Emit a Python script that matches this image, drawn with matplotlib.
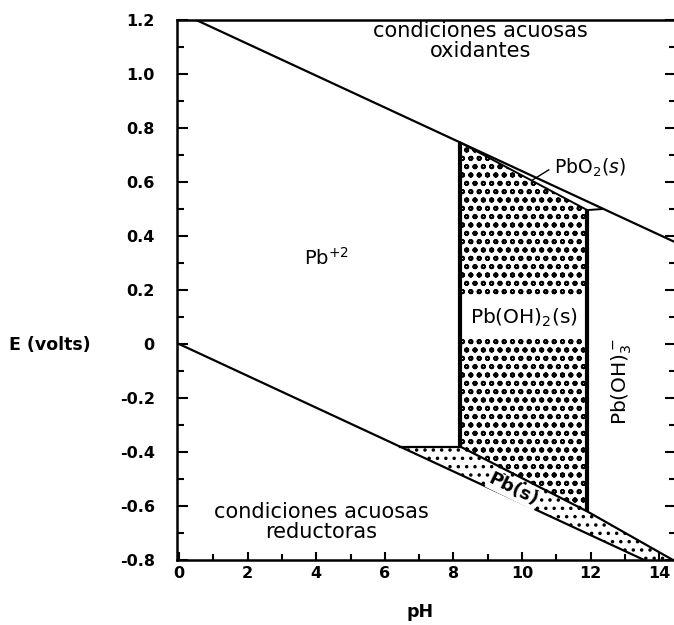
import numpy as np
import matplotlib
matplotlib.use("Agg")
import matplotlib.pyplot as plt
from matplotlib.patches import Polygon, Rectangle

plt.rcParams['font.family'] = ['DejaVu Sans']
plt.rcParams['hatch.linewidth'] = 1.3

# Water stability limits
o2_ph = [0.5, 14.5]
o2_e = [1.20, 0.375]
h2_ph = [0.0, 13.56]
h2_e = [0.0, -0.80]

# Pb+2 / Pb(s) boundary
pb2_ph = [6.45, 8.2]
pb2_e = [-0.38, -0.38]

# Pb(OH)2 and Pb(OH)3- / Pb(s) boundary
pbs_ph = [8.2, 11.9, 14.4]
pbs_e = [-0.38, -0.62, -0.80]

# PbO2(s) lower boundary
pbo2_ph = [8.2, 11.9, 12.35]
pbo2_e = [0.746, 0.496, 0.50]

# Vertical boundaries (Pb+2 / Pb(OH)2 and Pb(OH)2 / Pb(OH)3-)
v_ph = [8.2, 11.9]
v_lo = [-0.38, -0.62]
v_hi = [0.746, 0.496]

xticks = [0, 2, 4, 6, 8, 10, 12, 14]
yticks = [-0.8, -0.6, -0.4, -0.2, 0.0, 0.2, 0.4, 0.6, 0.8, 1.0, 1.2]
ytick_labels = ['-0.8', '-0.6', '-0.4', '-0.2', '0', '0.2', '0.4', '0.6', '0.8', '1.0', '1.2']

fig = plt.figure(figsize=(6.74, 6.25), dpi=100)
ax = fig.add_axes([0.2626, 0.104, 0.7404, 0.864])
ax.set_xlim(-0.06, 14.49)
ax.set_ylim(-0.8, 1.2)

# Pb(OH)2(s) field
poly_x = [v_ph[0]] + pbo2_ph[:2] + [v_ph[1]] + pbs_ph[1::-1]
poly_y = [v_hi[0]] + pbo2_e[:2] + [v_lo[1]] + pbs_e[1::-1]
ax.add_patch(Polygon(list(zip(poly_x, poly_y)), closed=True, facecolor='white',
                     edgecolor='black', hatch='oo', lw=0, zorder=1))
ax.add_patch(Rectangle((v_ph[0], 0.022), v_ph[1] - v_ph[0], 0.152,
                       facecolor='white', edgecolor='none', zorder=2))

# Pb(s) field
h2x = np.linspace(pb2_ph[0], h2_ph[1], 50)
h2y = np.interp(h2x, h2_ph, h2_e)
band_x = list(pb2_ph) + pbs_ph[1:] + list(h2x[::-1])
band_y = list(pb2_e) + pbs_e[1:] + list(h2y[::-1])
ax.add_patch(Polygon(list(zip(band_x, band_y)), closed=True, facecolor='white',
                     edgecolor='black', hatch='..', lw=0, zorder=1))

lc = 'black'
ax.plot(o2_ph, o2_e, color=lc, lw=1.6, zorder=3)
ax.plot(h2_ph, h2_e, color=lc, lw=1.6, zorder=3)
ax.plot(pb2_ph, pb2_e, color=lc, lw=1.6, zorder=3)
ax.plot(pbs_ph, pbs_e, color=lc, lw=1.6, zorder=3)
ax.plot(pbo2_ph, pbo2_e, color=lc, lw=1.4, zorder=3)
for x, lo, hi in zip(v_ph, v_lo, v_hi):
    ax.plot([x, x], [lo, hi], color=lc, lw=3.0, zorder=3, solid_capstyle='butt')

# Labels
ax.text(8.78, 1.122, 'condiciones acuosas\noxidantes', ha='center', va='center',
        fontsize=15, linespacing=0.95)
ax.text(4.14, -0.659, 'condiciones acuosas\nreductoras', ha='center', va='center',
        fontsize=15, linespacing=0.95)
ax.text(4.3, 0.32, 'Pb$^{+2}$', ha='center', va='center', fontsize=14)
ax.text(10.05, 0.098, 'Pb(OH)$_2$(s)', ha='center', va='center', fontsize=14.5, zorder=4)
ax.text(12.9, -0.14, 'Pb(OH)$_3^-$', ha='center', va='center', fontsize=14.5, rotation=90)
ax.text(11.98, 0.652, 'PbO$_2$($s$)', ha='center', va='center', fontsize=13.5)
ax.plot([10.78, 10.3], [0.645, 0.607], color=lc, lw=1.0)
ax.text(9.75, -0.54, 'Pb(s)', ha='center', va='center', fontsize=13,
        rotation=-26, fontweight='bold', zorder=4,
        bbox=dict(facecolor='white', edgecolor='none', pad=0.5))

# Axes styling
for side in ['left', 'bottom', 'top']:
    ax.spines[side].set_linewidth(1.8)
ax.spines['right'].set_visible(False)

ax.set_xticks(xticks)
ax.set_xticks(np.arange(0, 15, 1), minor=True)
ax.set_yticks(yticks)
ax.set_yticklabels(ytick_labels)
ax.set_yticks(np.arange(-0.8, 1.21, 0.1), minor=True)
ax.tick_params(axis='both', which='both', direction='in', width=1.5,
               labelsize=11.5)
ax.tick_params(axis='y', which='major', length=8, pad=16)
ax.tick_params(axis='y', which='minor', length=5)
ax.tick_params(axis='x', which='major', length=6, pad=4)
ax.tick_params(axis='x', which='minor', length=4)
ax.tick_params(axis='y', which='both', right=True)
for lab in ax.get_xticklabels() + ax.get_yticklabels():
    lab.set_fontweight('bold')

fig.text(50 / 674, 1 - 345 / 625, 'E (volts)', ha='center', va='center',
         fontsize=12.5, fontweight='bold')
fig.text(420 / 674, 1 - 612 / 625, 'pH', ha='center', va='center',
         fontsize=12.5, fontweight='bold')

fig.savefig('out.png', dpi=100)
